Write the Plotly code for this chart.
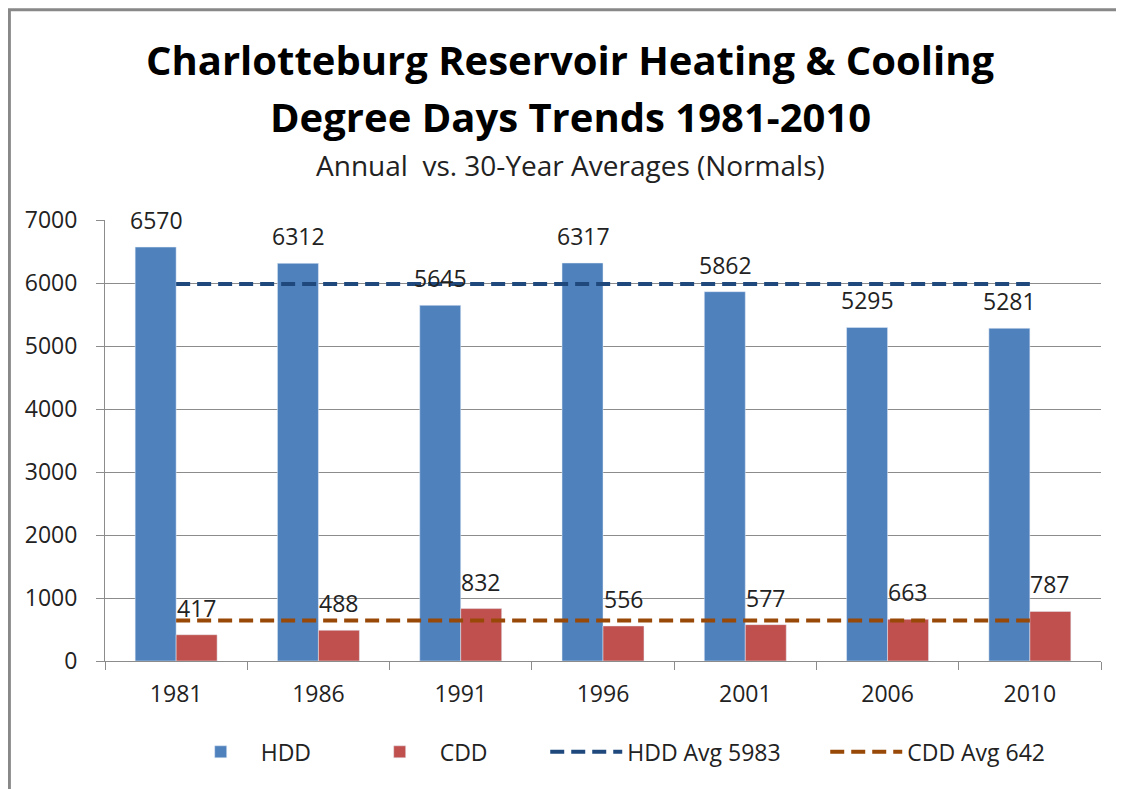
import plotly.graph_objects as go

years = ["1981", "1986", "1991", "1996", "2001", "2006", "2010"]
hdd = [6570, 6312, 5645, 6317, 5862, 5295, 5281]
cdd = [417, 488, 832, 556, 577, 663, 787]
hdd_avg = 5983
cdd_avg = 642

FONT = "'Open Sans', 'Noto Sans', sans-serif"
BLUE = "#4F81BD"
RED = "#C0504D"
NAVY = "#1F497D"
BROWN = "#984807"
GRID = "#8c8c8c"

fig = go.Figure()
fig.add_trace(go.Bar(x=years, y=hdd, name="HDD", marker_color=BLUE))
fig.add_trace(go.Bar(x=years, y=cdd, name="CDD", marker_color=RED))
fig.add_trace(go.Scatter(
    x=years, y=[hdd_avg] * len(years), mode="lines", name=f"HDD Avg {hdd_avg}",
    line=dict(color=NAVY, width=4, dash="14px,7px"), legend="legend2",
))
fig.add_trace(go.Scatter(
    x=years, y=[cdd_avg] * len(years), mode="lines", name=f"CDD Avg {cdd_avg}",
    line=dict(color=BROWN, width=4, dash="14px,7px"), legend="legend2",
))

# data labels above each bar (x given as category index)
ann = []
for i, v in enumerate(hdd):
    ann.append(dict(x=i, y=v, text=str(v), showarrow=False, xshift=-20,
                    yshift=27, yanchor="middle", font=dict(size=23, color="#222")))
for i, v in enumerate(cdd):
    ann.append(dict(x=i, y=v, text=str(v), showarrow=False, xshift=20,
                    yshift=27, yanchor="middle", font=dict(size=23, color="#222")))

# titles
ann.append(dict(xref="paper", yref="paper", x=0.467, y=1.363, showarrow=False,
                text="<b>Charlotteburg Reservoir Heating &amp; Cooling</b>",
                font=dict(size=40, color="#000"), yanchor="middle"))
ann.append(dict(xref="paper", yref="paper", x=0.467, y=1.234, showarrow=False,
                text="<b>Degree Days Trends 1981-2010</b>",
                font=dict(size=40, color="#000"), yanchor="middle"))
ann.append(dict(xref="paper", yref="paper", x=0.467, y=1.125, showarrow=False,
                text="Annual  vs. 30-Year Averages (Normals)",
                font=dict(size=28, color="#222"), yanchor="middle"))

leg = dict(orientation="h", y=-0.206, yanchor="middle", xanchor="left",
           font=dict(size=23, color="#222"), traceorder="normal",
           entrywidthmode="pixels")

fig.update_layout(
    width=1124, height=789,
    paper_bgcolor="white", plot_bgcolor="white",
    font=dict(family=FONT, size=23, color="#222"),
    margin=dict(l=97, r=31, t=212, b=136),
    barmode="group", bargap=0.424, bargroupgap=0,
    annotations=ann,
    showlegend=True,
    legend=dict(leg, x=0.076, itemwidth=70, entrywidth=94),
    legend2=dict(leg, x=0.442, itemwidth=72, entrywidth=193),
    shapes=[dict(type="rect", xref="paper", yref="paper",
                 x0=-0.096, x1=1.05, y0=-0.35, y1=1.477,
                 line=dict(color="#888", width=3), layer="below")],
)
fig.update_xaxes(
    type="category", range=[-0.5, 6.5], tickangle=0, showline=True, linecolor=GRID, linewidth=1,
    ticks="outside", tickson="boundaries", ticklen=8, tickcolor=GRID,
    ticklabelstandoff=12, showgrid=False,
)
fig.update_yaxes(
    range=[0, 7000], dtick=1000, showline=True, linecolor=GRID, linewidth=1,
    ticks="outside", ticklen=8, tickcolor=GRID, ticklabelstandoff=14,
    showgrid=True, gridcolor=GRID, gridwidth=1, zeroline=False,
)

fig.write_html("out.html")
